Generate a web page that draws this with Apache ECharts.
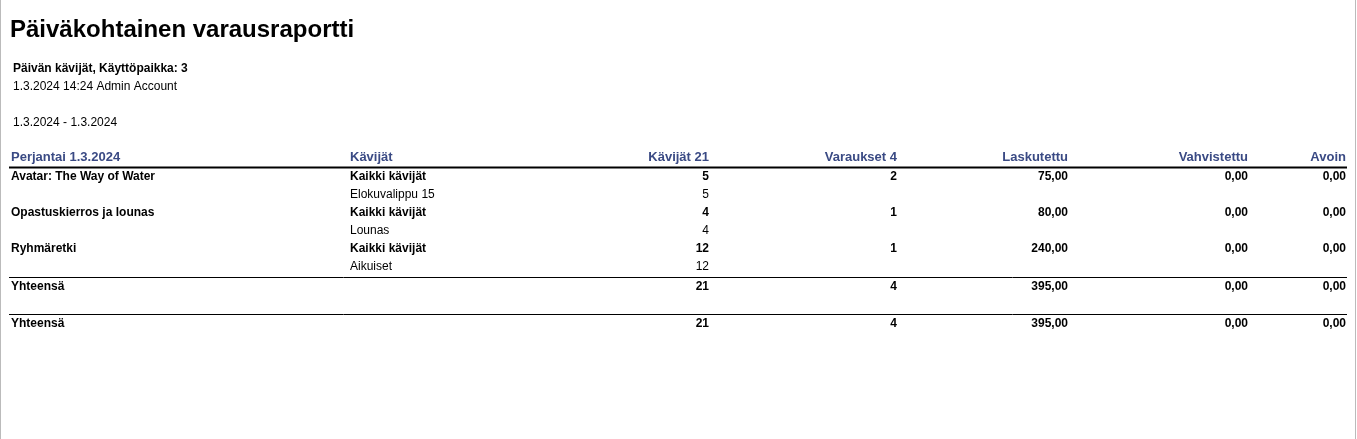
<!DOCTYPE html>
<html><head><meta charset="utf-8">
<script src="https://cdn.jsdelivr.net/npm/echarts@6/dist/echarts.min.js"></script>
<style>html,body{margin:0;padding:0;background:#fff}#c{width:1357px;height:439px}</style>
</head><body><div id="c"></div>
<script>
const title = 'Päiväkohtainen varausraportti';
const infoLines = ['Päivän kävijät, Käyttöpaikka: 3', '1.3.2024 14:24 Admin Account', '', '1.3.2024 - 1.3.2024'];
const headers = ['Perjantai 1.3.2024', 'Kävijät', 'Kävijät 21', 'Varaukset 4', 'Laskutettu', 'Vahvistettu', 'Avoin'];
const products = ['Avatar: The Way of Water', 'Opastuskierros ja lounas', 'Ryhmäretki'];
const groups = ['Kaikki kävijät', 'Kaikki kävijät', 'Kaikki kävijät'];
const subGroups = ['Elokuvalippu 15', 'Lounas', 'Aikuiset'];
const visitors = [5, 4, 12];
const subVisitors = [5, 4, 12];
const bookings = [2, 1, 1];
const invoiced = ['75,00', '80,00', '240,00'];
const confirmed = ['0,00', '0,00', '0,00'];
const open = ['0,00', '0,00', '0,00'];
const totalLabel = 'Yhteensä';
const totals = ['21', '4', '395,00', '0,00', '0,00'];

// layout
const colX = [11, 350, 709, 897, 1068, 1248, 1346];
const colAlign = ['left', 'left', 'right', 'right', 'right', 'right', 'right'];
const FONT = 'Arial, "Liberation Sans", sans-serif';
const els = [];
function txt(x, y, s, o) {
  els.push({type: 'text', x: x, y: y, style: Object.assign({text: s, fill: '#000', font: '12px ' + FONT, textAlign: 'left', textVerticalAlign: 'middle'}, o || {})});
}
function line(y, w) {
  els.push({type: 'line', shape: {x1: 9, y1: y, x2: 1347, y2: y}, style: {stroke: '#000', lineWidth: w}});
}
txt(10, 30, title, {font: 'bold 24px ' + FONT});
infoLines.forEach((s, i) => { if (s) txt(13, 69 + i * 18, s, {font: (i === 0 ? 'bold ' : '') + '12px ' + FONT}); });
headers.forEach((h, i) => txt(colX[i], 157, h, {font: 'bold 13px ' + FONT, fill: '#3a4a84', textAlign: colAlign[i]}));
line(167.5, 2);
products.forEach((p, i) => {
  const y = 177 + i * 36;
  const b = 'bold 12px ' + FONT;
  const row = [p, groups[i], String(visitors[i]), String(bookings[i]), invoiced[i], confirmed[i], open[i]];
  row.forEach((s, j) => txt(colX[j], y, s, {font: b, textAlign: colAlign[j]}));
  txt(colX[1], y + 18, subGroups[i]);
  txt(colX[2], y + 18, String(subVisitors[i]), {textAlign: 'right'});
});
[277.5, 314.5].forEach((ly, k) => {
  line(ly, 1);
  const y = ly + 9;
  txt(colX[0], y, totalLabel, {font: 'bold 12px ' + FONT});
  totals.forEach((s, j) => txt(colX[j + 2], y, s, {font: 'bold 12px ' + FONT, textAlign: 'right'}));
});
els.push({type: 'line', shape: {x1: 0.5, y1: 0, x2: 0.5, y2: 439}, style: {stroke: '#bbb', lineWidth: 1}});
els.push({type: 'line', shape: {x1: 1355.5, y1: 0, x2: 1355.5, y2: 439}, style: {stroke: '#bbb', lineWidth: 1}});
const chart = echarts.init(document.getElementById('c'), null, {renderer: 'canvas'});
chart.setOption({backgroundColor: '#fff', animation: false, graphic: els});
</script></body></html>
